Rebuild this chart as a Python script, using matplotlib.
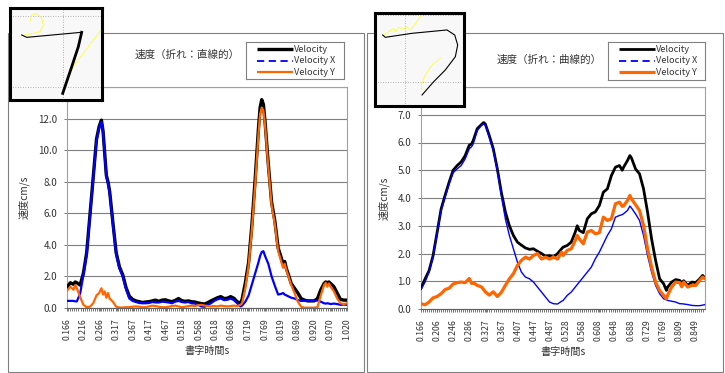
import numpy as np
import matplotlib
matplotlib.use('Agg')
import matplotlib.pyplot as plt
from matplotlib.patches import Rectangle
from matplotlib.ticker import MultipleLocator, FormatStrFormatter

plt.rcParams['font.family'] = ['Noto Sans CJK JP', 'DejaVu Sans']

W, H = 725, 373

#### left chart: 折れ 直線的 ####
t_left = [0.166, 0.176, 0.186, 0.191, 0.196, 0.206, 0.216, 0.226, 0.236, 0.246,
          0.256, 0.264, 0.271, 0.276, 0.281, 0.286, 0.291, 0.296, 0.306, 0.316,
          0.326, 0.336, 0.346, 0.356, 0.366, 0.376, 0.386, 0.396, 0.406, 0.416,
          0.426, 0.436, 0.446, 0.456, 0.466, 0.476, 0.486, 0.496, 0.506, 0.516,
          0.526, 0.536, 0.546, 0.556, 0.566, 0.576, 0.586, 0.596, 0.605, 0.615,
          0.625, 0.635, 0.645, 0.655, 0.665, 0.675, 0.685, 0.695, 0.700, 0.710,
          0.720, 0.730, 0.740, 0.750, 0.755, 0.760, 0.765, 0.770, 0.780, 0.790,
          0.800, 0.810, 0.820, 0.825, 0.830, 0.835, 0.840, 0.850, 0.860, 0.870,
          0.880, 0.890, 0.900, 0.910, 0.920, 0.930, 0.940, 0.950, 0.955, 0.960,
          0.965, 0.970, 0.980, 0.990, 1.000, 1.010, 1.020]
vel_left = [1.3, 1.6, 1.5, 1.65, 1.6, 1.45, 2.2, 3.5, 5.9, 8.3,
            10.7, 11.5, 11.9, 11.2, 9.8, 8.4, 8.0, 7.4, 5.4, 3.5,
            2.6, 2.1, 1.3, 0.75, 0.55, 0.45, 0.4, 0.35, 0.38, 0.4,
            0.45, 0.5, 0.42, 0.5, 0.52, 0.45, 0.4, 0.48, 0.6, 0.47,
            0.42, 0.45, 0.4, 0.38, 0.32, 0.28, 0.25, 0.35, 0.45, 0.55,
            0.65, 0.72, 0.6, 0.62, 0.72, 0.62, 0.4, 0.3, 0.55, 1.6,
            2.9, 5.3, 8.2, 11.4, 12.7, 13.2, 12.9, 11.8, 9.1, 6.7,
            5.5, 3.8, 3.15, 2.75, 2.95, 2.5, 2.2, 1.55, 1.25, 0.95,
            0.6, 0.5, 0.45, 0.45, 0.45, 0.6, 1.15, 1.55, 1.65, 1.6,
            1.65, 1.55, 1.35, 0.95, 0.55, 0.5, 0.5]
vx_left = [0.45, 0.45, 0.45, 0.42, 0.42, 0.9, 2.1, 3.4, 5.8, 8.2,
           10.6, 11.4, 11.8, 11.1, 9.7, 8.3, 7.9, 7.3, 5.3, 3.4,
           2.5, 2.0, 1.2, 0.6, 0.45, 0.38, 0.32, 0.3, 0.3, 0.32,
           0.38, 0.35, 0.35, 0.4, 0.38, 0.35, 0.3, 0.4, 0.45, 0.38,
           0.35, 0.38, 0.3, 0.28, 0.2, 0.1, 0.08, 0.2, 0.3, 0.45,
           0.55, 0.6, 0.5, 0.52, 0.6, 0.5, 0.3, 0.1, 0.15, 0.4,
           0.8, 1.5, 2.2, 2.9, 3.3, 3.55, 3.6, 3.3, 2.8, 2.0,
           1.4, 0.85, 0.9, 0.95, 0.85, 0.8, 0.75, 0.65, 0.6, 0.5,
           0.45, 0.45, 0.48, 0.45, 0.45, 0.48, 0.4, 0.3, 0.28, 0.3,
           0.28, 0.25, 0.28, 0.25, 0.2, 0.22, 0.2]
vy_left = [1.1, 1.35, 1.15, 1.45, 1.25, 0.7, 0.2, 0.05, 0.08, 0.3,
           0.8, 0.95, 1.25, 0.85, 1.05, 0.65, 0.95, 0.6, 0.4, 0.08,
           0.03, 0.03, 0.05, 0.05, 0.08, 0.1, 0.08, 0.05, 0.05, 0.1,
           0.15, 0.12, 0.08, 0.05, 0.05, 0.08, 0.12, 0.15, 0.1, 0.05,
           0.08, 0.12, 0.15, 0.12, 0.18, 0.2, 0.15, 0.12, 0.1, 0.12,
           0.1, 0.15, 0.12, 0.1, 0.12, 0.15, 0.12, 0.2, 0.3, 1.25,
           2.7, 5.0, 7.8, 11.0, 12.3, 12.7, 12.5, 11.6, 8.9, 6.5,
           5.3, 3.6, 2.9, 2.55, 2.8, 2.4, 2.1, 1.45, 0.95, 0.4,
           0.08, 0.02, 0.02, 0.02, 0.02, 0.05, 0.8, 1.45, 1.6, 1.35,
           1.55, 1.35, 1.05, 0.6, 0.3, 0.25, 0.3]
ticks_left = ['0.166', '0.216', '0.266', '0.317', '0.367', '0.417', '0.467', '0.518', '0.568',
              '0.618', '0.668', '0.719', '0.769', '0.819', '0.869', '0.920', '0.970', '1.020']

#### right chart: 折れ 曲線的 ####
t_right = [0.166, 0.176, 0.186, 0.196, 0.206, 0.216, 0.226, 0.236, 0.246, 0.256,
           0.266, 0.276, 0.286, 0.292, 0.296, 0.306, 0.316, 0.322, 0.326, 0.336,
           0.346, 0.356, 0.366, 0.376, 0.386, 0.396, 0.406, 0.416, 0.426, 0.436,
           0.446, 0.456, 0.466, 0.476, 0.486, 0.496, 0.506, 0.516, 0.520, 0.530,
           0.540, 0.550, 0.555, 0.560, 0.570, 0.580, 0.590, 0.600, 0.610, 0.620,
           0.630, 0.640, 0.650, 0.660, 0.667, 0.670, 0.680, 0.686, 0.690, 0.700,
           0.710, 0.720, 0.730, 0.740, 0.750, 0.760, 0.770, 0.777, 0.780, 0.790,
           0.800, 0.810, 0.815, 0.820, 0.830, 0.840, 0.850, 0.860, 0.867, 0.873]
vel_right = [0.75, 1.08, 1.38, 1.92, 2.75, 3.6, 4.1, 4.57, 5.0, 5.17,
             5.3, 5.53, 5.9, 5.95, 6.07, 6.5, 6.64, 6.72, 6.67, 6.25,
             5.77, 5.05, 4.2, 3.5, 3.0, 2.65, 2.41, 2.3, 2.2, 2.15,
             2.17, 2.08, 2.0, 1.9, 1.92, 1.87, 2.0, 2.17, 2.23, 2.29,
             2.41, 2.77, 3.0, 2.83, 2.75, 3.25, 3.43, 3.5, 3.73, 4.21,
             4.33, 4.81, 5.11, 5.17, 5.0, 5.1, 5.35, 5.53, 5.44, 5.05,
             4.87, 4.33, 3.49, 2.53, 1.75, 1.09, 0.91, 0.67, 0.79, 0.97,
             1.06, 1.03, 0.95, 1.02, 0.85, 0.97, 0.95, 1.09, 1.21, 1.12]
vx_right = [0.71, 0.97, 1.33, 1.87, 2.71, 3.55, 4.03, 4.51, 4.91, 5.05,
            5.17, 5.41, 5.77, 5.85, 5.95, 6.43, 6.61, 6.67, 6.63, 6.19,
            5.71, 5.0, 4.09, 3.25, 2.65, 2.17, 1.69, 1.33, 1.15, 1.09,
            0.97, 0.79, 0.61, 0.43, 0.25, 0.19, 0.18, 0.28, 0.31, 0.49,
            0.61, 0.79, 0.88, 0.97, 1.15, 1.33, 1.51, 1.81, 2.05, 2.35,
            2.65, 2.89, 3.31, 3.37, 3.4, 3.43, 3.55, 3.71, 3.64, 3.43,
            3.19, 2.65, 1.93, 1.33, 0.85, 0.55, 0.37, 0.33, 0.31, 0.28,
            0.25, 0.19, 0.19, 0.18, 0.16, 0.13, 0.12, 0.12, 0.14, 0.16]
vy_right = [0.19, 0.15, 0.25, 0.4, 0.45, 0.55, 0.7, 0.75, 0.9, 0.95,
            0.97, 0.95, 1.1, 0.92, 0.95, 0.85, 0.8, 0.7, 0.62, 0.5,
            0.62, 0.45, 0.6, 0.85, 1.09, 1.27, 1.57, 1.75, 1.87, 1.8,
            1.93, 2.0, 1.8, 1.87, 1.8, 1.87, 1.8, 2.05, 1.93, 2.11,
            2.17, 2.47, 2.65, 2.53, 2.35, 2.77, 2.83, 2.71, 2.75, 3.31,
            3.19, 3.25, 3.79, 3.85, 3.7, 3.71, 3.91, 4.09, 3.97, 3.76,
            3.55, 3.01, 2.17, 1.51, 0.97, 0.67, 0.49, 0.37, 0.5, 0.79,
            0.97, 0.95, 0.8, 0.97, 0.79, 0.85, 0.85, 1.03, 1.15, 1.09]
ticks_right = ['0.166', '0.206', '0.246', '0.286', '0.327', '0.367', '0.407', '0.447', '0.487',
               '0.528', '0.568', '0.608', '0.648', '0.688', '0.729', '0.769', '0.809', '0.849']

series_names = ['Velocity', 'Velocity X', 'Velocity Y']

#### pen traces shown in the thumbnails (0-1 box coords) ####
pen_left_x = [0.127, 0.181, 0.779]
pen_left_y = [0.707, 0.681, 0.736]
pen_left2_x = [0.779, 0.743, 0.671, 0.573]
pen_left2_y = [0.736, 0.580, 0.362, 0.072]
air_left_x = [0.163, 0.253, 0.326, 0.362, 0.345, 0.290, 0.236, 0.217]
air_left_y = [0.707, 0.725, 0.742, 0.815, 0.888, 0.942, 0.924, 0.851]
air_left2_x = [0.573, 0.688, 0.990]
air_left2_y = [0.090, 0.366, 0.760]

pen_right_x = [0.089, 0.118, 0.416, 0.807, 0.893, 0.926, 0.900, 0.788, 0.658, 0.528]
pen_right_y = [0.761, 0.736, 0.779, 0.815, 0.761, 0.654, 0.528, 0.386, 0.260, 0.118]
air_right_x = [0.100, 0.156, 0.212, 0.230, 0.268, 0.324, 0.360, 0.397, 0.435, 0.472, 0.509, 0.547]
air_right_y = [0.761, 0.796, 0.833, 0.796, 0.843, 0.822, 0.850, 0.815, 0.857, 0.904, 0.957, 0.993]
air_right2_x = [0.528, 0.520, 0.565, 0.640, 0.732]
air_right2_y = [0.171, 0.225, 0.332, 0.440, 0.511]


def box(x0, y0, x1, y1):
    return [x0 / W, 1 - y1 / H, (x1 - x0) / W, (y1 - y0) / H]


def speed_chart(ax, t, v, vx, vy, ticks, xmax, ymax, lws):
    ax.plot(t, v, color='black', lw=lws[0], solid_joinstyle='round', zorder=3)
    ax.plot(t, vx, color='#0000ff', lw=lws[1], zorder=4)
    ax.plot(t, vy, color='#ff6600', lw=lws[2], zorder=5)
    ax.set_xlim(float(ticks[0]), xmax)
    ax.set_ylim(0, ymax)
    pos = [float(s) for s in ticks]
    ax.set_xticks(pos, labels=ticks, rotation=90)
    step = (pos[-1] - pos[0]) / (len(pos) - 1)
    ax.xaxis.set_minor_locator(MultipleLocator(step / 8))
    ax.set_yticks(np.arange(0, ymax + 0.01, 2.0 if ymax > 10 else 1.0))
    ax.yaxis.set_major_formatter(FormatStrFormatter('%.1f'))
    ax.grid(axis='y', color='#7f7f7f', lw=0.8)
    ax.set_axisbelow(True)
    ax.tick_params(axis='x', which='both', length=2.5, width=0.6, color='#606060',
                   labelsize=6.3, labelcolor='#333333', pad=5)
    ax.tick_params(axis='y', length=2, width=0.6, color='#606060',
                   labelsize=7, labelcolor='#333333', pad=5)
    for s in ['top', 'right', 'left']:
        ax.spines[s].set_color('#a0a0a0')
        ax.spines[s].set_linewidth(0.8)
    ax.spines['bottom'].set_color('#606060')
    ax.spines['bottom'].set_linewidth(0.8)
    ax.set_xlabel('書字時間s', fontsize=7.3, color='#333333', labelpad=4)
    ax.set_ylabel('速度cm/s', fontsize=7.3, color='#333333', labelpad=6)


def legend_box(x0, y0, x1, y1, lws):
    # Excel style legend, drawn in pixel units of its own little box
    lg = fig.add_axes(box(x0, y0, x1, y1))
    lg.set_xlim(0, x1 - x0)
    lg.set_ylim(y1 - y0, 0)
    lg.set_xticks([])
    lg.set_yticks([])
    for s in lg.spines.values():
        s.set_color('#808080')
        s.set_linewidth(0.8)
    styles = [('black', '-'), ('#0000ff', (0, (4, 2.5))), ('#ff6600', '-')]
    for i, name in enumerate(series_names):
        yy = 7.0 + i * 11.6
        lg.plot([11.5, 47.5], [yy, yy], color=styles[i][0], ls=styles[i][1], lw=lws[i],
                solid_capstyle='butt')
        lg.text(48.5, yy, name, fontsize=6.6, color='#333333', va='center', ha='left')


def thumb(ax, lines, hgrid, vgrid):
    ax.set_facecolor('#f8f8f8')
    ax.set_xlim(0, 1)
    ax.set_ylim(0, 1)
    ax.set_xticks([])
    ax.set_yticks([])
    for hy in hgrid:
        ax.axhline(hy, color='#9a9a9a', lw=0.6, ls=(0, (1, 2)))
    ax.axvline(vgrid, color='#9a9a9a', lw=0.6, ls=(0, (1, 2)))
    for xs, ys, c, w in lines:
        ax.plot(xs, ys, color=c, lw=w)
    for s in ax.spines.values():
        s.set_color('black')
        s.set_linewidth(2.2)


fig = plt.figure(figsize=(W / 100, H / 100), dpi=100)

# outer chart frames
for x0, x1 in [(8, 364), (367, 723)]:
    fig.add_artist(Rectangle((x0 / W, 1 - 371.5 / H), (x1 - x0) / W, (371.5 - 33) / H,
                             transform=fig.transFigure, fill=False,
                             edgecolor='#808080', lw=0.8, zorder=-1))

ax1 = fig.add_axes(box(67, 87, 347, 308))
speed_chart(ax1, t_left, vel_left, vx_left, vy_left, ticks_left, 1.020, 14, (2.4, 1.6, 1.6))
ax2 = fig.add_axes(box(421, 87, 705, 309))
speed_chart(ax2, t_right, vel_right, vx_right, vy_right, ticks_right, 0.873, 8, (2.0, 1.0, 2.3))

fig.text(187 / W, 1 - 55 / H, '速度（折れ：直線的）', fontsize=7.6, color='#333333',
         ha='center', va='center')
fig.text(548.7 / W, 1 - 60 / H, '速度（折れ：曲線的）', fontsize=7.6, color='#333333',
         ha='center', va='center')

legend_box(245.7, 42.3, 344, 79.3, (2.4, 1.3, 1.6))
legend_box(607.7, 42.3, 705.3, 79.7, (2.0, 1.3, 2.3))

in1 = fig.add_axes(box(10, 8, 102, 100))
in1.set_zorder(10)
thumb(in1, [(air_left_x, air_left_y, '#ffff33', 0.6),
            (air_left2_x, air_left2_y, '#ffff33', 0.6),
            (pen_left_x, pen_left_y, 'black', 0.8),
            (pen_left2_x, pen_left2_y, 'black', 2.0)], [0.913, 0.141], 0.576)
in2 = fig.add_axes(box(374.7, 12.7, 464.3, 106))
in2.set_zorder(10)
thumb(in2, [(air_right_x, air_right_y, '#ffff33', 0.6),
            (air_right2_x, air_right2_y, '#ffff33', 0.6),
            (pen_right_x, pen_right_y, 'black', 0.8)], [0.975, 0.26], 0.342)

fig.savefig('out.png', dpi=100)
